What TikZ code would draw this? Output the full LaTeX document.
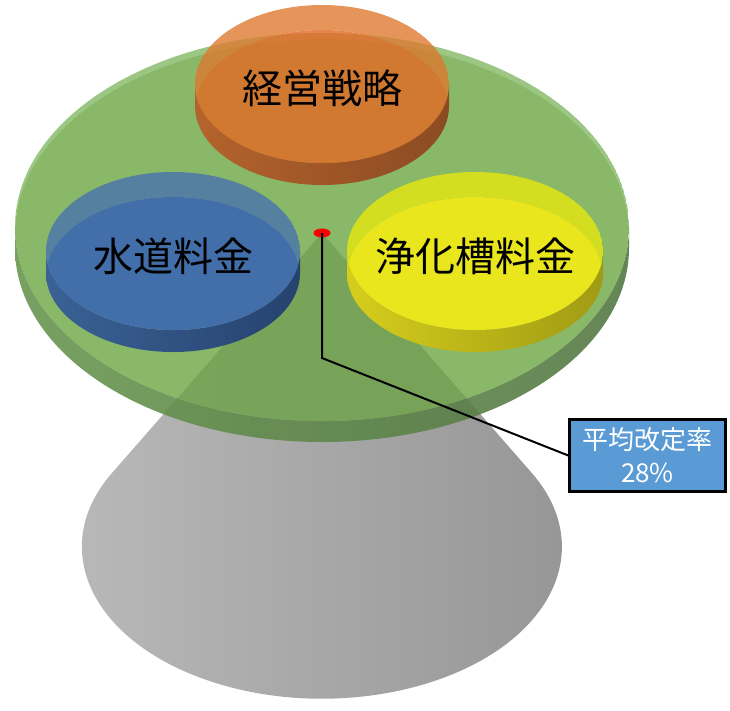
\documentclass[tikz,border=0pt]{standalone}
\usepackage{fontspec}
\setmainfont{Noto Sans CJK JP}
\usetikzlibrary{positioning, shapes.geometric}
\definecolor{cnleft}{RGB}{186,186,186}
\definecolor{cnmid}{RGB}{188,188,188}
\definecolor{cnright}{RGB}{150,150,150}
\definecolor{gnface}{RGB}{124,176,88}
\definecolor{gnrim}{RGB}{145,192,118}
\definecolor{gnside}{RGB}{105,150,80}
\definecolor{gndark}{RGB}{85,120,68}
\definecolor{ogface}{RGB}{228,104,36}
\definecolor{ogrim}{RGB}{222,123,49}
\definecolor{ogside}{RGB}{191,79,30}
\definecolor{ogdark}{RGB}{141,48,18}
\definecolor{blface}{RGB}{66,110,170}
\definecolor{blrim}{RGB}{86,128,160}
\definecolor{blside}{RGB}{58,98,150}
\definecolor{bldark}{RGB}{38,66,110}
\definecolor{ywface}{RGB}{233,230,30}
\definecolor{ywrim}{RGB}{212,222,32}
\definecolor{ywside}{RGB}{214,205,28}
\definecolor{ywdark}{RGB}{160,155,20}
\definecolor{rateblue}{RGB}{91,155,213}
% disc: centre, x radius, y radius, thickness, colour prefix, opacity, rim
\newcommand{\drawdisc}[7]{%
  \begin{scope}[shift={#1}]
    \shade[left color=#5side, right color=#5dark, opacity=#6]
      (-#2,0) -- (-#2,#4) arc[start angle=180, end angle=0, x radius=#2, y radius=#3]
      -- (#2,0) arc[start angle=0, end angle=180, x radius=#2, y radius=#3] -- cycle;
    \begin{scope}
      \clip (0,0) ellipse[x radius=#2, y radius=#3];
      \fill[#5rim, opacity=#6, even odd rule] (0,0) ellipse[x radius=#2, y radius=#3]
        (0,#7) ellipse[x radius=#2, y radius=#3];
      \fill[#5face, opacity=#6] (0,#7) ellipse[x radius=#2, y radius=#3];
    \end{scope}
  \end{scope}}

\begin{document}
\begin{tikzpicture}[x=1pt, y=-1pt,
    disctext/.style={font=\fontsize{40}{48}\selectfont, text=black, inner sep=0},
    ratebox/.style={draw=black, line width=2.5pt, fill=rateblue, text=white, align=center,
      minimum width=156, minimum height=72, inner sep=0, font=\fontsize{26}{33}\selectfont}]
    \useasboundingbox (0,0) rectangle (730,710);
    % Cone
    \shade[left color=cnleft, middle color=cnmid, right color=cnright]
      (322,233) -- (112,473) arc[start angle=209, end angle=-29, x radius=240, y radius=152] -- cycle;
    % Platter
    \drawdisc{(322,227)}{307}{194}{21}{gn}{0.9}{6}
    \begin{scope}
      \clip (322,227) ellipse[x radius=307, y radius=194];
      \fill[black, opacity=0.06]
        (322,233) -- (112,473) arc[start angle=209, end angle=-29, x radius=240, y radius=152] -- cycle;
    \end{scope}
    % Three discs
    \drawdisc{(322,84)}{127}{79}{22}{og}{0.8}{25}
    \drawdisc{(173,251)}{127}{79}{22}{bl}{1}{25}
    \drawdisc{(475,251)}{128}{79}{22}{yw}{1}{25}
    \node[disctext] (keiei) at (322,88) {経営戦略};
    \node[disctext] (suido) at (173,256) {水道料金};
    \node[disctext] (jokaso) at (475,256) {浄化槽料金};
    % Callout
    \node[ellipse, fill=red, minimum width=17, minimum height=9, inner sep=0] (dot) at (322,233) {};
    \coordinate (bend) at (322,358);
    \node[ratebox] (rate) at (647.5,455.5) {平均改定率\\28\%};
    \draw[line width=2pt] (dot.center) -- (bend) -- (rate.west);
\end{tikzpicture}
\end{document}
